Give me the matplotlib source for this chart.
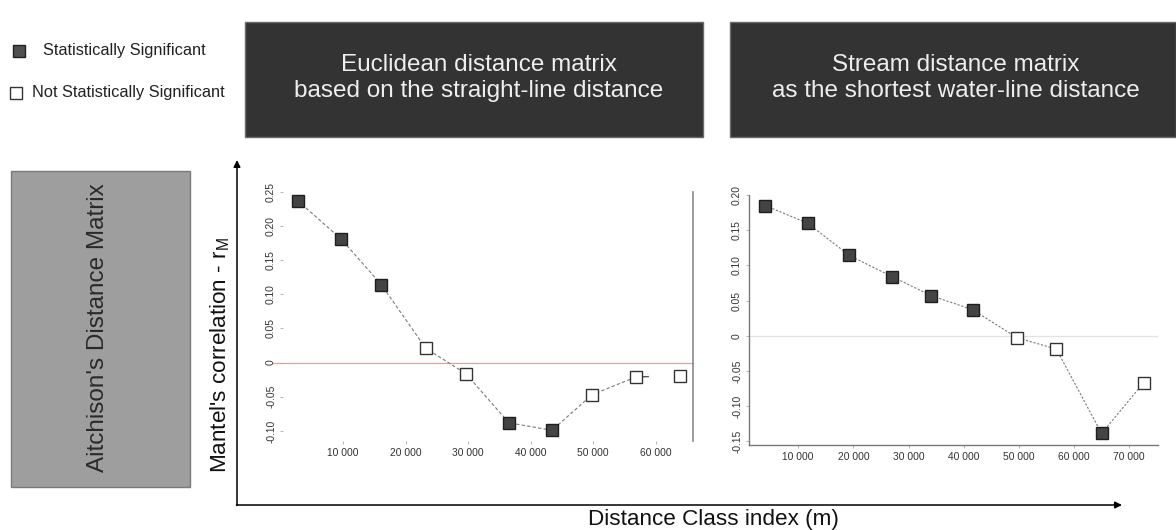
import matplotlib
matplotlib.use("Agg")
import matplotlib.pyplot as plt
from matplotlib.patches import Rectangle
import numpy as np

plt.rcParams['font.family'] = ['Liberation Sans', 'DejaVu Sans']

# Mantel correlogram, Euclidean (straight-line) distance classes
euclid_dist = [2700, 9650, 16100, 23200, 29600, 36500, 43400, 49800, 56800, 63900]
euclid_r = [0.237, 0.181, 0.114, 0.021, -0.016, -0.088, -0.099, -0.047, -0.021, -0.019]
euclid_sig = [True, True, True, False, False, True, True, False, False, False]

# Mantel correlogram, stream (water-line) distance classes
stream_dist = [4000, 11700, 19300, 27000, 34100, 41600, 49700, 56800, 65000, 72600]
stream_r = [0.185, 0.160, 0.114, 0.084, 0.057, 0.037, -0.003, -0.019, -0.139, -0.067]
stream_sig = [True, True, True, True, True, True, False, False, True, False]

euclid_xticks = [10000, 20000, 30000, 40000, 50000, 60000]
stream_xticks = [10000, 20000, 30000, 40000, 50000, 60000, 70000]
euclid_yticks = [0.25, 0.20, 0.15, 0.10, 0.05, 0.0, -0.05, -0.10]
stream_yticks = [0.20, 0.15, 0.10, 0.05, 0.0, -0.05, -0.10, -0.15]

title_left = "Euclidean distance matrix\nbased on the straight-line distance"
title_right = "Stream distance matrix\nas the shortest water-line distance"
row_label = "Aitchison's Distance Matrix"
y_label = "Mantel's correlation - r$_\\mathregular{M}$"
x_label = "Distance Class index (m)"
legend_labels = ["Statistically Significant", "Not Statistically Significant"]

W, H = 1176, 530
fig = plt.figure(figsize=(W / 100, H / 100), dpi=100)

# Overlay in pixel coordinates for boxes, arrows and labels
ov = fig.add_axes([0, 0, 1, 1], zorder=0)
ov.set_xlim(0, W)
ov.set_ylim(H, 0)
ov.axis('off')

FILL = '#444444'
EDGE = '#1e1e1e'


def fmt_thousands(v):
    return f"{int(v):,}".replace(",", " ")


def fmt_r(v):
    if abs(v) < 1e-9:
        return "0"
    return f"{v:.2f}"


def draw_points(ax, xs, ys, sig):
    for x, y, s in zip(xs, ys, sig):
        ax.plot([x], [y], marker='s', ms=9,
                mfc=FILL if s else 'white',
                mec=EDGE if s else '#333333', mew=1.0,
                ls='none', zorder=4, clip_on=False)


def style_ticks(ax, xticks, yticks):
    ax.set_xticks(xticks)
    ax.set_xticklabels([fmt_thousands(v) for v in xticks])
    ax.set_yticks(yticks)
    ax.set_yticklabels([fmt_r(v) for v in yticks], rotation=90, va='center')
    ax.tick_params(axis='both', labelsize=7.4, colors='#aaaaaa',
                   labelcolor='#333333', length=2, width=0.6, pad=3)
    ax.set_facecolor('none')


# Left panel: Euclidean distance
axl = fig.add_axes([283 / W, (H - 440.7) / H, (692.7 - 283) / W, (440.7 - 191.7) / H])
axl.set_xlim(370, 65900)
axl.set_ylim(-0.1142, 0.2484)
for side in ['left', 'top', 'bottom']:
    axl.spines[side].set_visible(False)
axl.spines['right'].set_color('#8a8a8a')
axl.spines['right'].set_linewidth(1.2)
axl.plot([-1200, 65900], [0, 0], color='#d4a6a6', lw=0.9, zorder=1, clip_on=False)
axl.plot(euclid_dist[:9], euclid_r[:9], ls=(0, (3, 2)), color='#7a7a7a', lw=0.8, zorder=2)
frac = 0.28
axl.plot([euclid_dist[8], euclid_dist[8] + frac * (euclid_dist[9] - euclid_dist[8])],
         [euclid_r[8], euclid_r[8] + frac * (euclid_r[9] - euclid_r[8])],
         color='#555555', lw=1.0, zorder=2)
draw_points(axl, euclid_dist, euclid_r, euclid_sig)
style_ticks(axl, euclid_xticks, euclid_yticks)

# Right panel: stream distance
axr = fig.add_axes([749 / W, (H - 445) / H, (1158 - 749) / W, (445 - 195) / H])
axr.set_xlim(1090, 75220)
axr.set_ylim(-0.1554, 0.20)
for side in ['right', 'top']:
    axr.spines[side].set_visible(False)
for side in ['left', 'bottom']:
    axr.spines[side].set_color('#777777')
    axr.spines[side].set_linewidth(1.0)
axr.axhline(0, color='#e2e2e2', lw=0.9, zorder=1)
axr.plot(stream_dist, stream_r, ls=(0, (2, 1.5)), color='#7a7a7a', lw=0.8, zorder=2)
draw_points(axr, stream_dist, stream_r, stream_sig)
style_ticks(axr, stream_xticks, stream_yticks)

# Header boxes
ov.add_patch(Rectangle((245, 22), 703 - 245, 137 - 22, facecolor='#333333',
                       edgecolor='#6a6a6a', lw=1.0))
ov.add_patch(Rectangle((730, 22), 1176 - 730, 137 - 22, facecolor='#333333',
                       edgecolor='#6a6a6a', lw=1.0))
ov.text(479, 78, title_left, ha='center', va='center', color='#eeeeee',
        fontsize=17.5, linespacing=1.2)
ov.text(956, 78, title_right, ha='center', va='center', color='#eeeeee',
        fontsize=17.5, linespacing=1.2)

# Row label box
ov.add_patch(Rectangle((11, 171), 190 - 11, 487 - 171, facecolor='#9e9e9e',
                       edgecolor='#7a7a7a', lw=1.0))
ov.text(98, 328, row_label, rotation=90, ha='center', va='center',
        color='#2a2a2a', fontsize=17.5)

# Legend
ov.plot([19], [51], marker='s', ms=8.6, mfc='#505050', mec='#222222', mew=1.0, ls='none')
ov.plot([15.5], [92.5], marker='s', ms=8.6, mfc='white', mec='#333333', mew=1.0, ls='none')
ov.text(43, 50, legend_labels[0], ha='left', va='center', color='#222222', fontsize=11.8)
ov.text(32, 93, legend_labels[1], ha='left', va='center', color='#222222', fontsize=11.8)

# Shared axis arrows
arrow = dict(arrowstyle='-|>', lw=1.1, color='black', mutation_scale=10,
             shrinkA=0, shrinkB=0)
ov.annotate('', xy=(237, 160), xytext=(237, 505.5), arrowprops=arrow)
ov.annotate('', xy=(1122, 505), xytext=(236.5, 505), arrowprops=arrow)

ov.text(220, 355, y_label, rotation=90, ha='center', va='center',
        color='#111111', fontsize=16.2)
ov.text(713, 519, x_label, ha='center', va='center', color='#111111', fontsize=16.2)

fig.savefig('out.png', dpi=100)
